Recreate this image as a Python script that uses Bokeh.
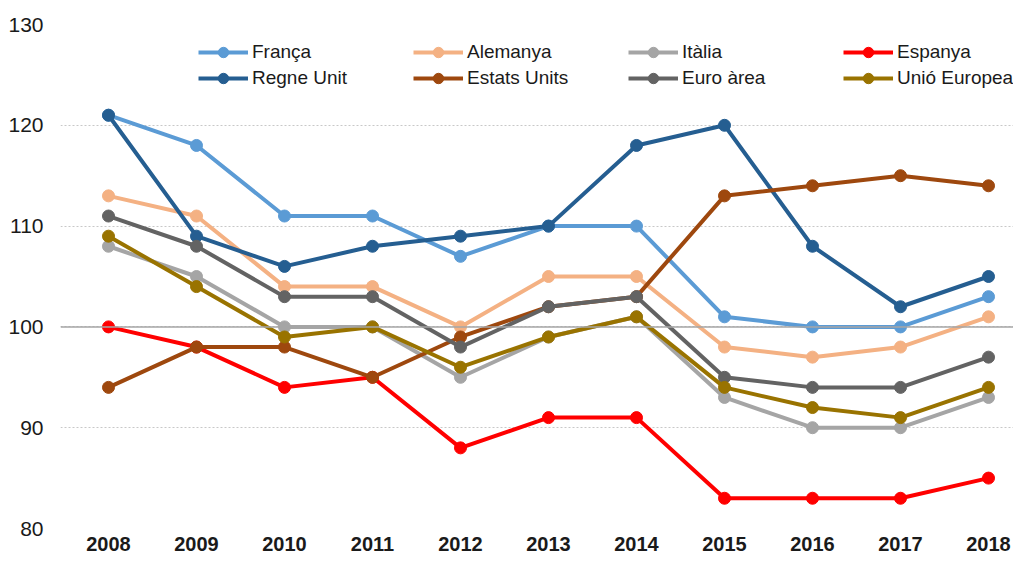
from bokeh.plotting import figure
from bokeh.models import Range1d, FixedTicker, Span, Legend, LegendItem
from bokeh.embed import file_html
from bokeh.resources import INLINE

years = [2008, 2009, 2010, 2011, 2012, 2013, 2014, 2015, 2016, 2017, 2018]

franca = [121, 118, 111, 111, 107, 110, 110, 101, 100, 100, 103]
alemanya = [113, 111, 104, 104, 100, 105, 105, 98, 97, 98, 101]
italia = [108, 105, 100, 100, 95, 99, 101, 93, 90, 90, 93]
espanya = [100, 98, 94, 95, 88, 91, 91, 83, 83, 83, 85]
regne_unit = [121, 109, 106, 108, 109, 110, 118, 120, 108, 102, 105]
estats_units = [94, 98, 98, 95, 99, 102, 103, 113, 114, 115, 114]
euro_area = [111, 108, 103, 103, 98, 102, 103, 95, 94, 94, 97]
unio_europea = [109, 104, 99, 100, 96, 99, 101, 94, 92, 91, 94]

series = [
    ("França", franca, "#5B9BD5"),
    ("Alemanya", alemanya, "#F4B183"),
    ("Itàlia", italia, "#A5A5A5"),
    ("Espanya", espanya, "#FF0000"),
    ("Regne Unit", regne_unit, "#255E91"),
    ("Estats Units", estats_units, "#9E480E"),
    ("Euro àrea", euro_area, "#636363"),
    ("Unió Europea", unio_europea, "#997300"),
]

y_ticks = [80, 90, 100, 110, 120, 130]

FONT = "Liberation Sans"

p = figure(width=1013, height=553, output_backend="svg", toolbar_location=None,
           x_range=Range1d(2007.4545, 2018.284), y_range=Range1d(80, 130),
           min_border_left=60, min_border_right=0, min_border_top=24, min_border_bottom=21)
p.outline_line_color = None
p.background_fill_color = "white"
p.border_fill_color = "white"

p.xgrid.grid_line_color = None
p.ygrid.ticker = FixedTicker(ticks=y_ticks)
p.ygrid.grid_line_color = "#C8C8C8"
p.ygrid.grid_line_dash = "2 2"
p.ygrid.grid_line_width = 1

p.add_layout(Span(location=100, dimension="width", line_color="#A6A6A6", line_width=1.5))

p.xaxis.ticker = FixedTicker(ticks=years)
p.xaxis.axis_line_color = None
p.xaxis.major_tick_line_color = None
p.xaxis.minor_tick_line_color = None
p.xaxis.major_label_text_font = FONT
p.xaxis.major_label_text_font_style = "bold"
p.xaxis.major_label_text_font_size = "20px"
p.xaxis.major_label_text_color = "#1a1a1a"
p.xaxis.major_label_standoff = 2

p.yaxis.ticker = FixedTicker(ticks=y_ticks)
p.yaxis.axis_line_color = None
p.yaxis.major_tick_line_color = None
p.yaxis.minor_tick_line_color = None
p.yaxis.major_label_text_font = FONT
p.yaxis.major_label_text_font_size = "21px"
p.yaxis.major_label_text_color = "#1a1a1a"
p.yaxis.major_label_standoff = 11

items = []
for name, vals, col in series:
    r1 = p.line(years, vals, line_color=col, line_width=4)
    r2 = p.scatter(years, vals, size=12, fill_color=col, line_color=col)
    items.append(LegendItem(label=name, renderers=[r1, r2]))

legend = Legend(items=items, ncols=4, location=(138, 437), orientation="horizontal",
                glyph_width=50, glyph_height=26, label_standoff=4, label_width=161,
                spacing=0, padding=0, margin=0,
                label_text_font=FONT, label_text_font_size="19px",
                label_text_color="#1a1a1a",
                border_line_color=None, background_fill_alpha=0)
p.add_layout(legend)

open("out.html", "w").write(file_html(p, INLINE))
